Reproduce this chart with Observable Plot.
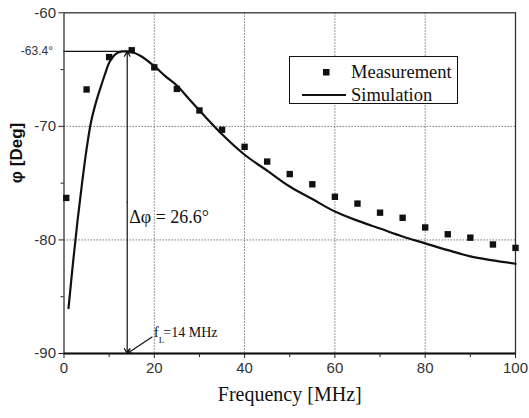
<!DOCTYPE html>
<html><head><meta charset="utf-8">
<script src="https://cdn.jsdelivr.net/npm/d3@7"></script>
<script src="https://cdn.jsdelivr.net/npm/@observablehq/plot@0.6"></script>
<style>
body{margin:0;background:#fff;}
#wrap{position:relative;width:529px;height:418px;overflow:hidden;}
#legend{position:absolute;left:289px;top:56px;width:167px;height:46px;border:1.5px solid #111;background:#fff;font-family:"Liberation Serif","Times New Roman",serif;font-size:18.5px;color:#111;}
.row{position:absolute;left:0;height:22px;display:flex;align-items:center;}
.row svg{display:block;}
</style></head><body>
<div id="wrap"></div>
<script>
// Measurement data
const measFreq = [0.5, 5, 10, 15, 20, 25, 30, 35, 40, 45, 50, 55, 60, 65, 70, 75, 80, 85, 90, 95, 100];
const measPhase = [-76.3, -66.75, -63.9, -63.3, -64.8, -66.7, -68.6, -70.3, -71.8, -73.1, -74.2, -75.1, -76.2, -76.8, -77.6, -78.05, -78.9, -79.5, -79.8, -80.4, -80.7];
// Simulation data
const simFreq = [1, 2, 3, 4, 5, 6, 7, 8, 9, 10, 11, 12, 13, 14, 15, 17, 20, 22.5, 25, 27.5, 30, 35, 40, 45, 50, 55, 60, 65, 70, 75, 80, 85, 90, 95, 100];
const simPhase = [-86.0, -82.0, -78.3, -75.0, -72.0, -69.6, -68.0, -66.7, -65.5, -64.4, -63.8, -63.5, -63.4, -63.4, -63.45, -63.8, -64.7, -65.6, -66.4, -67.5, -68.6, -70.7, -72.5, -73.9, -75.3, -76.4, -77.5, -78.3, -79.0, -79.7, -80.3, -80.9, -81.45, -81.8, -82.1];
// Axes
const xTicks = [0, 20, 40, 60, 80, 100];
const xMinor = [10, 30, 50, 70, 90];
const yTicks = [-60, -70, -80, -90];
const yMinor = [-65, -75, -85];
const xGrid = [20, 40, 60, 80];
const yGrid = [-70, -80];
const xDomain = [0, 100];
const yDomain = [-90, -60];
const xLabel = "Frequency [MHz]";
const yLabel = "φ [Deg]";
// Annotation values
const peakFreq = 14;
const peakPhase = -63.4;
const peakLabel = "-63.4°";
const deltaLabel = "Δφ = 26.6°";
const deltaLabelY = -78.0;
const fLabelParts = ["f", "L", "=14 MHz"];
const fLabelPos = [19.9, -88.1];
const fArrowStart = [19.5, -88.55];
const seriesNames = ["Measurement", "Simulation"];

const meas = measFreq.map((f, i) => ({f, p: measPhase[i]}));
const sim = simFreq.map((f, i) => ({f, p: simPhase[i]}));
const peak = [{f0: xDomain[0], f: peakFreq, p: peakPhase, bottom: yDomain[0], mid: (peakPhase + yDomain[0]) / 2, dy: deltaLabelY}];
const fl = [{x: fLabelPos[0], y: fLabelPos[1], x1: fArrowStart[0], y1: fArrowStart[1], x2: peakFreq, y2: yDomain[0]}];

const sans = "Liberation Sans, Arial, sans-serif";
const serif = "Liberation Serif, Times New Roman, serif";

const chart = Plot.plot({
  width: 529, height: 418,
  marginLeft: 63.5, marginRight: 14, marginTop: 12.3, marginBottom: 65,
  style: {background: "#fff", color: "#222"},
  x: {domain: xDomain},
  y: {domain: yDomain},
  marks: [
    Plot.gridX(xGrid, {stroke: "#777", strokeOpacity: 1, strokeDasharray: "1.5,1.5", strokeWidth: 1}),
    Plot.gridY(yGrid, {stroke: "#777", strokeOpacity: 1, strokeDasharray: "1.5,1.5", strokeWidth: 1}),
    Plot.frame({stroke: "#333", strokeWidth: 1.3}),
    Plot.ruleY([yDomain[0]], {stroke: "#111", strokeWidth: 2}),
    Plot.axisX(xTicks, {tickSize: 5, tickPadding: 4, fontSize: 15, fontFamily: sans, tickFormat: d => String(d), label: null, fill: "#333"}),
    Plot.axisX(xMinor, {tickSize: 4, tickFormat: () => "", label: null}),
    Plot.axisY(yTicks, {tickSize: 5, tickPadding: 3, fontSize: 15, fontFamily: sans, tickFormat: d => String(d), label: null, fill: "#333"}),
    Plot.axisY(yMinor, {tickSize: 3, tickFormat: () => "", label: null}),
    Plot.axisY([peakPhase], {tickSize: 0, tickPadding: 11, fontSize: 12, fontFamily: sans, tickFormat: () => peakLabel, label: null, fill: "#333"}),
    Plot.text([yLabel], {frameAnchor: "left", dx: -47, rotate: -90, text: d => d, fontWeight: "bold", fontSize: 17, fontFamily: sans, fill: "#111"}),
    Plot.text([xLabel], {frameAnchor: "bottom", dy: 47, text: d => d, fontSize: 20, fontFamily: serif, fill: "#111"}),
    Plot.ruleY(peak, {y: "p", x1: "f0", x2: "f", stroke: "#111", strokeWidth: 1.3}),
    Plot.arrow(peak, {x1: "f", y1: "mid", x2: "f", y2: "p", stroke: "#111", strokeWidth: 1.2, headLength: 7}),
    Plot.arrow(peak, {x1: "f", y1: "mid", x2: "f", y2: "bottom", stroke: "#111", strokeWidth: 1.2, headLength: 7}),
    Plot.text(peak, {x: "f", y: "dy", text: () => deltaLabel, textAnchor: "start", dx: 2, fontSize: 18, fontFamily: serif, fill: "#111"}),
    Plot.line(sim, {x: "f", y: "p", curve: "catmull-rom", stroke: "#111", strokeWidth: 2.2}),
    Plot.dot(meas, {x: "f", y: "p", symbol: "square", r: 3.6, fill: "#111", stroke: "none"}),
    Plot.arrow(fl, {x1: "x1", y1: "y1", x2: "x2", y2: "y2", stroke: "#111", strokeWidth: 1.2, headLength: 6}),
    Plot.text(fl, {
      x: "x", y: "y", text: () => fLabelParts.join(""), textAnchor: "start", fontSize: 15, fontFamily: serif, fill: "#111",
      render(index, scales, values, dimensions, context, next) {
        const g = next(index, scales, values, dimensions, context);
        d3.select(g).selectAll("text").each(function () {
          const t = d3.select(this);
          t.text(null);
          t.append("tspan").text(fLabelParts[0]);
          t.append("tspan").attr("dy", 6).attr("font-size", 9).text(fLabelParts[1]);
          t.append("tspan").attr("dy", -6).attr("dx", -1).attr("font-size", 14).text(fLabelParts[2]);
        });
        return g;
      }
    })
  ]
});

const wrap = document.getElementById("wrap");
wrap.appendChild(chart);

// Legend overlay
const legend = document.createElement("div");
legend.id = "legend";
const rows = [
  {name: seriesNames[0], top: 4, swatch: s => s.append("rect").attr("x", 33).attr("y", 8).attr("width", 6.5).attr("height", 6.5).attr("fill", "#111")},
  {name: seriesNames[1], top: 27, swatch: s => s.append("line").attr("x1", 12).attr("x2", 56).attr("y1", 11).attr("y2", 11).attr("stroke", "#111").attr("stroke-width", 2)}
];
rows.forEach(r => {
  const row = document.createElement("div");
  row.className = "row";
  row.style.top = r.top + "px";
  const svg = d3.create("svg").attr("width", 61).attr("height", 22);
  r.swatch(svg);
  row.appendChild(svg.node());
  const t = document.createElement("span");
  t.textContent = r.name;
  row.appendChild(t);
  legend.appendChild(row);
});
wrap.appendChild(legend);
</script>
</body></html>
